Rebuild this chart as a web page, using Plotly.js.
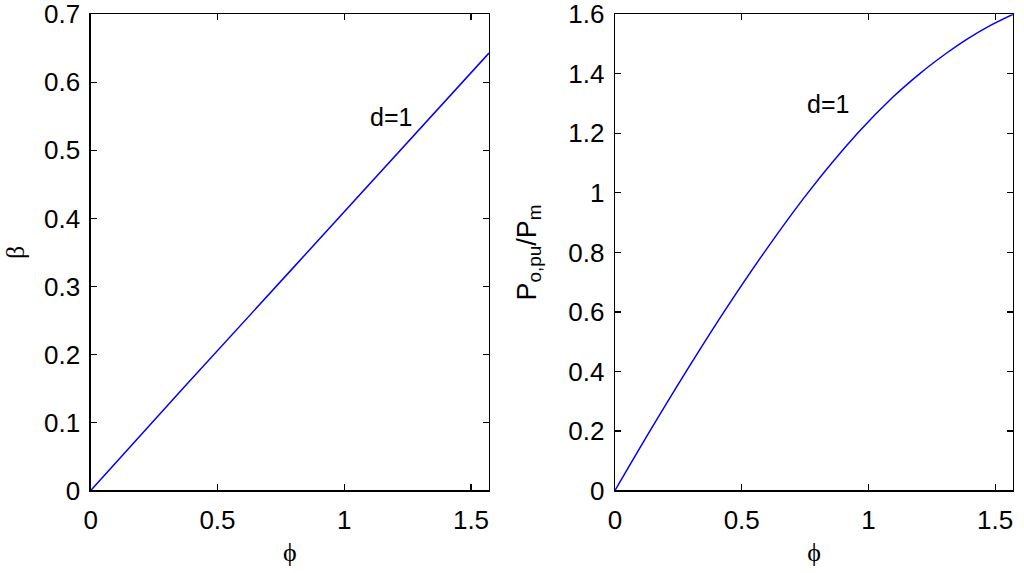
<!DOCTYPE html>
<html>
<head>
<meta charset="utf-8">
<script src="https://cdn.plot.ly/plotly-3.0.1.min.js"></script>
<style>html,body{margin:0;padding:0;background:#fff;}#chart{width:1024px;height:573px;}</style>
</head>
<body>
<div id="chart"></div>
<script>
// Left panel: beta vs phi (d=1)
const phiLeft = [0, 0.359, 0.80, 1.20, 1.5708];
const betaLeft = [0, 0.148, 0.328, 0.492, 0.643];

// Right panel: Po,pu/Pm vs phi (d=1)
const phiRight = [0, 0.138, 0.281, 0.430, 0.589, 0.761, 0.957, 1.098, 1.203, 1.309, 1.388, 1.48, 1.5708];
const powerRight = [0, 0.2, 0.4, 0.6, 0.8, 1.0, 1.2, 1.323, 1.401, 1.470, 1.516, 1.562, 1.6];

const xTicks = [0, 0.5, 1, 1.5];
const yTicksLeft = [0, 0.1, 0.2, 0.3, 0.4, 0.5, 0.6, 0.7];
const yTicksRight = [0, 0.2, 0.4, 0.6, 0.8, 1, 1.2, 1.4, 1.6];
const curveLabel = 'd=1';

const sans = 'Liberation Sans, Arial, Helvetica, sans-serif';
const serif = 'Liberation Serif, DejaVu Serif, Times New Roman, serif';

const axisCommon = {
  showline: true, linecolor: '#000', linewidth: 1.3, mirror: 'allticks',
  ticks: 'inside', ticklen: 6, tickwidth: 1.2, tickcolor: '#000',
  showgrid: false, zeroline: false, ticklabeloverflow: 'allow',
  tickfont: {family: sans, size: 26, color: '#000'}
};

const traces = [
  {x: phiLeft, y: betaLeft, type: 'scatter', mode: 'lines', xaxis: 'x', yaxis: 'y',
   line: {color: '#0000ff', width: 1.5}, showlegend: false},
  {x: phiRight, y: powerRight, type: 'scatter', mode: 'lines', xaxis: 'x2', yaxis: 'y2',
   line: {color: '#0000ff', width: 1.5, shape: 'spline', smoothing: 1}, showlegend: false}
];

const layout = {
  width: 1024, height: 573,
  margin: {l: 0, r: 0, t: 0, b: 0},
  paper_bgcolor: '#fff', plot_bgcolor: '#fff',
  showlegend: false,
  xaxis: Object.assign({}, axisCommon, {
    domain: [0.0886, 0.4775], range: [0, Math.PI / 2], tickvals: xTicks,
    ticklabelstandoff: 6,
    title: {text: 'ϕ', font: {family: serif, size: 26, color: '#000'}, standoff: 8}
  }),
  yaxis: Object.assign({}, axisCommon, {
    domain: [0.144, 0.975], range: [0, 0.7], tickvals: yTicksLeft,
    ticklabelstandoff: 4,
    title: {text: 'β', font: {family: serif, size: 26, color: '#000'}, standoff: 12}
  }),
  xaxis2: Object.assign({}, axisCommon, {
    domain: [0.6006, 0.9893], range: [0, Math.PI / 2], tickvals: xTicks, anchor: 'y2',
    ticklabelstandoff: 6,
    title: {text: 'ϕ', font: {family: serif, size: 26, color: '#000'}, standoff: 8}
  }),
  yaxis2: Object.assign({}, axisCommon, {
    domain: [0.144, 0.975], range: [0, 1.6], tickvals: yTicksRight, anchor: 'x2',
    ticklabelstandoff: 4,
    title: {text: 'P<sub>o,pu</sub>/P<sub>m</sub>', font: {family: sans, size: 27, color: '#000'}, standoff: 24}
  }),
  annotations: [
    {x: 1.186, y: 0.549, xref: 'x', yref: 'y', text: curveLabel, showarrow: false,
     font: {family: sans, size: 25, color: '#000'}},
    {x: 0.839, y: 1.298, xref: 'x2', yref: 'y2', text: curveLabel, showarrow: false,
     font: {family: sans, size: 25, color: '#000'}}
  ]
};

Plotly.newPlot('chart', traces, layout, {displayModeBar: false, staticPlot: true});
</script>
</body>
</html>
